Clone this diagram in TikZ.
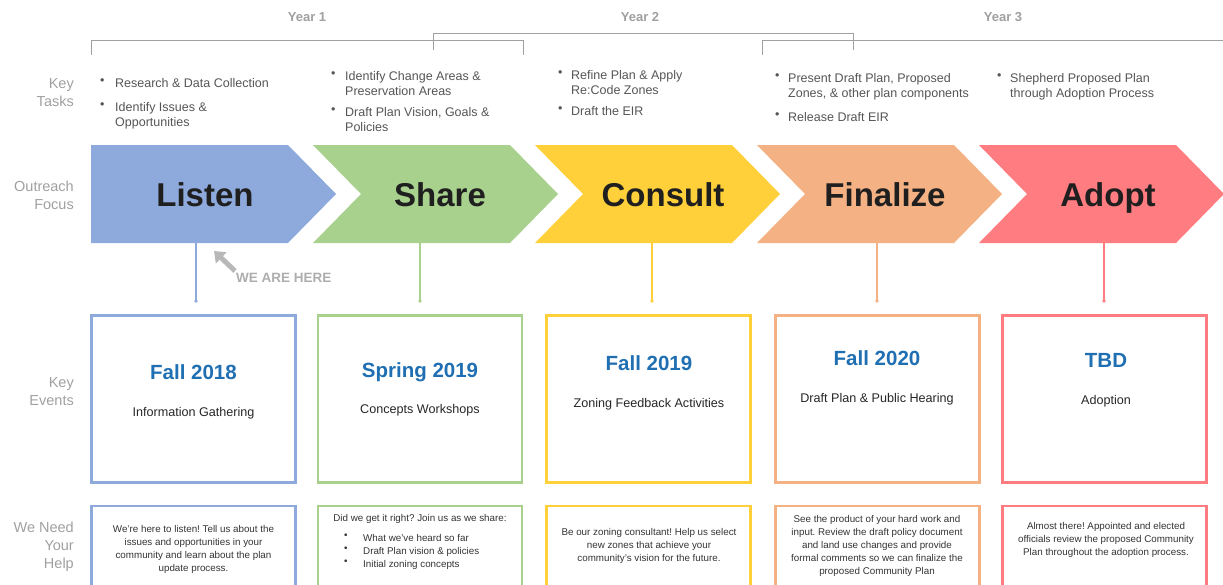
\documentclass[tikz,border=0pt]{standalone}
\usepackage{fontspec}
\setmainfont{Liberation Sans}
\usetikzlibrary{arrows.meta}
\frenchspacing
\definecolor{cL}{HTML}{8EA9DB}
\definecolor{cS}{HTML}{A9D18E}
\definecolor{cC}{HTML}{FFD03A}
\definecolor{cF}{HTML}{F4B183}
\definecolor{cA}{HTML}{FF7C80}
\definecolor{lbl}{HTML}{A0A0A0}
\definecolor{txt}{HTML}{555555}
\definecolor{ttl}{HTML}{1F6FB2}
\definecolor{brk}{HTML}{A0A0A0}
\tikzset{
  sidelbl/.style={anchor=east, align=right, text=lbl, font=\fontsize{14.5}{18}\selectfont, inner sep=0pt},
  yearlbl/.style={text=lbl, font=\fontsize{13}{15}\selectfont\bfseries, inner sep=0pt},
  task/.style={anchor=north west, align=left, text=txt, font=\fontsize{12.5}{15}\selectfont, inner sep=0pt},
  bul/.style={anchor=north west, text=txt, font=\fontsize{12.5}{15}\selectfont, inner sep=0pt},
  chevlbl/.style={anchor=base, font=\fontsize{33}{36}\selectfont\bfseries, text=black!88, inner sep=0pt},
  evbox/.style={draw, line width=2.4pt, minimum width=204pt, minimum height=167pt, inner sep=0pt},
  hbox/.style={draw, line width=2.4pt, minimum width=204pt, minimum height=100pt, anchor=north, inner sep=0pt},
  evttl/.style={anchor=base, text=ttl, font=\fontsize{20.5}{24}\selectfont\bfseries, inner sep=0pt},
  evsub/.style={anchor=base, text=black!85, font=\fontsize{12.6}{15}\selectfont, inner sep=0pt},
  htxt/.style={align=center, text=black!80, font=\fontsize{9.8}{13}\selectfont, inner sep=0pt},
  conn/.style={line width=1.2pt},
  brack/.style={draw=brk, line width=0.8pt}
}
\begin{document}
\begin{tikzpicture}[x=1pt,y=-1pt]
\useasboundingbox (0,0) rectangle (1223,584);
\clip (0,0) rectangle (1223,584);

% year labels and brackets
\node[yearlbl] (y1) at (307,17) {Year 1};
\node[yearlbl] (y2) at (640,17) {Year 2};
\node[yearlbl] (y3) at (1003,17) {Year 3};
\draw[brack] (91,55) -- (91,40) -- (523,40) -- (523,55);
\draw[brack] (433,50) -- (433,33) -- (853,33) -- (853,50);
\draw[brack] (762,55) -- (762,40) -- (1223,40);

% side labels
\node[sidelbl] (lk) at (74,93) {Key\\Tasks};
\node[sidelbl] (lo) at (74,195) {Outreach\\Focus};
\node[sidelbl] (le) at (74,392) {Key\\Events};
\node[sidelbl] (lh) at (74,547) {We Need\\Your\\Help};

% key tasks
\node[bul] (b11) at (100,78) {•};
\node[task] (t11) at (115,78) {Research \& Data Collection};
\node[bul] (b12) at (100,102) {•};
\node[task] (t12) at (115,102) {Identify Issues \&\\Opportunities};

\node[bul] (b21) at (331,71) {•};
\node[task] (t21) at (345,71) {Identify Change Areas \&\\Preservation Areas};
\node[bul] (b22) at (331,107) {•};
\node[task] (t22) at (345,107) {Draft Plan Vision, Goals \&\\Policies};

\node[bul] (b31) at (558,70) {•};
\node[task] (t31) at (571,70) {Refine Plan \& Apply\\Re:Code Zones};
\node[bul] (b32) at (558,106) {•};
\node[task] (t32) at (571,106) {Draft the EIR};

\node[bul] (b41) at (775,73) {•};
\node[task] (t41) at (788,73) {Present Draft Plan, Proposed\\Zones, \& other plan components};
\node[bul] (b42) at (775,112) {•};
\node[task] (t42) at (788,112) {Release Draft EIR};

\node[bul] (b51) at (997,73) {•};
\node[task] (t51) at (1010,73) {Shepherd Proposed Plan\\through Adoption Process};

% chevrons
\fill[cL] (91,145) -- (288,145) -- (336,194) -- (288,243) -- (91,243) -- cycle;
\fill[cS] (313,145) -- (510,145) -- (558,194) -- (510,243) -- (313,243) -- (361,194) -- cycle;
\fill[cC] (535,145) -- (732,145) -- (780,194) -- (732,243) -- (535,243) -- (583,194) -- cycle;
\fill[cF] (757,145) -- (954,145) -- (1002,194) -- (954,243) -- (757,243) -- (805,194) -- cycle;
\fill[cA] (979,145) -- (1176,145) -- (1224,194) -- (1176,243) -- (979,243) -- (1027,194) -- cycle;
\node[chevlbl] (listen) at (205,206) {Listen};
\node[chevlbl] (share) at (440,206) {Share};
\node[chevlbl] (consult) at (663,206) {Consult};
\node[chevlbl] (finalize) at (885,206) {Finalize};
\node[chevlbl] (adopt) at (1108,206) {Adopt};

% connectors
\coordinate (c1t) at (196,243); \coordinate (c1) at (196,301);
\coordinate (c2t) at (420,243); \coordinate (c2) at (420,301);
\coordinate (c3t) at (652,243); \coordinate (c3) at (652,301);
\coordinate (c4t) at (877,243); \coordinate (c4) at (877,301);
\coordinate (c5t) at (1104,243); \coordinate (c5) at (1104,301);
\draw[conn, cL] (c1t) -- (c1); \fill[cL] (c1) circle (1.8);
\draw[conn, cS] (c2t) -- (c2); \fill[cS] (c2) circle (1.8);
\draw[conn, cC] (c3t) -- (c3); \fill[cC] (c3) circle (1.8);
\draw[conn, cF] (c4t) -- (c4); \fill[cF] (c4) circle (1.8);
\draw[conn, cA] (c5t) -- (c5); \fill[cA] (c5) circle (1.8);

% we are here
\coordinate (wt) at (214,251);
\coordinate (wf) at (235,271);
\draw[line width=5pt, black!28, -{Triangle[length=10pt,width=15pt]}] (wf) -- (wt);
\node[anchor=west, text=black!32, font=\fontsize{13.5}{15}\selectfont\bfseries, inner sep=0pt] (wah) at (236,278) {WE ARE HERE};

% event boxes
\node[evbox, draw=cL] (ev1) at (193.5,399) {};
\node[evbox, draw=cS] (ev2) at (420,399) {};
\node[evbox, draw=cC] (ev3) at (648.5,399) {};
\node[evbox, draw=cF] (ev4) at (877.5,399) {};
\node[evbox, draw=cA] (ev5) at (1104.5,399) {};
\node[evttl] (e1t) at (193.5,379.5) {Fall 2018};
\node[evsub] (e1s) at (193.5,416.5) {Information Gathering};
\node[evttl] (e2t) at (420,377.5) {Spring 2019};
\node[evsub] (e2s) at (420,413.5) {Concepts Workshops};
\node[evttl] (e3t) at (649,370.5) {Fall 2019};
\node[evsub] (e3s) at (649,407.5) {Zoning Feedback Activities};
\node[evttl] (e4t) at (877,365.5) {Fall 2020};
\node[evsub] (e4s) at (877,402.5) {Draft Plan \& Public Hearing};
\node[evttl] (e5t) at (1106,367.5) {TBD};
\node[evsub] (e5s) at (1106,404.5) {Adoption};

% help boxes
\node[hbox, draw=cL] (h1) at (193.5,505) {};
\node[hbox, draw=cS] (h2) at (420,505) {};
\node[hbox, draw=cC] (h3) at (648.5,505) {};
\node[hbox, draw=cF] (h4) at (877.5,505) {};
\node[hbox, draw=cA] (h5) at (1104.5,505) {};
\node[htxt] (h1t) at (193.5,549) {We’re here to listen! Tell us about the\\issues and opportunities in your\\community and learn about the plan\\update process.};
\node[htxt, anchor=north] (h2t) at (420,514) {Did we get it right? Join us as we share:};
\node[htxt, anchor=north west, align=left] (h2b) at (344,534) {•\\•\\•};
\node[htxt, anchor=north west, align=left] (h2l) at (363,534) {What we’ve heard so far\\Draft Plan vision \& policies\\Initial zoning concepts};
\node[htxt] (h3t) at (649,546) {Be our zoning consultant! Help us select\\new zones that achieve your\\community’s vision for the future.};
\node[htxt] (h4t) at (877,546) {See the product of your hard work and\\input. Review the draft policy document\\and land use changes and provide\\formal comments so we can finalize the\\proposed Community Plan};
\node[htxt] (h5t) at (1106,540) {Almost there! Appointed and elected\\officials review the proposed Community\\Plan throughout the adoption process.};
\end{tikzpicture}
\end{document}
